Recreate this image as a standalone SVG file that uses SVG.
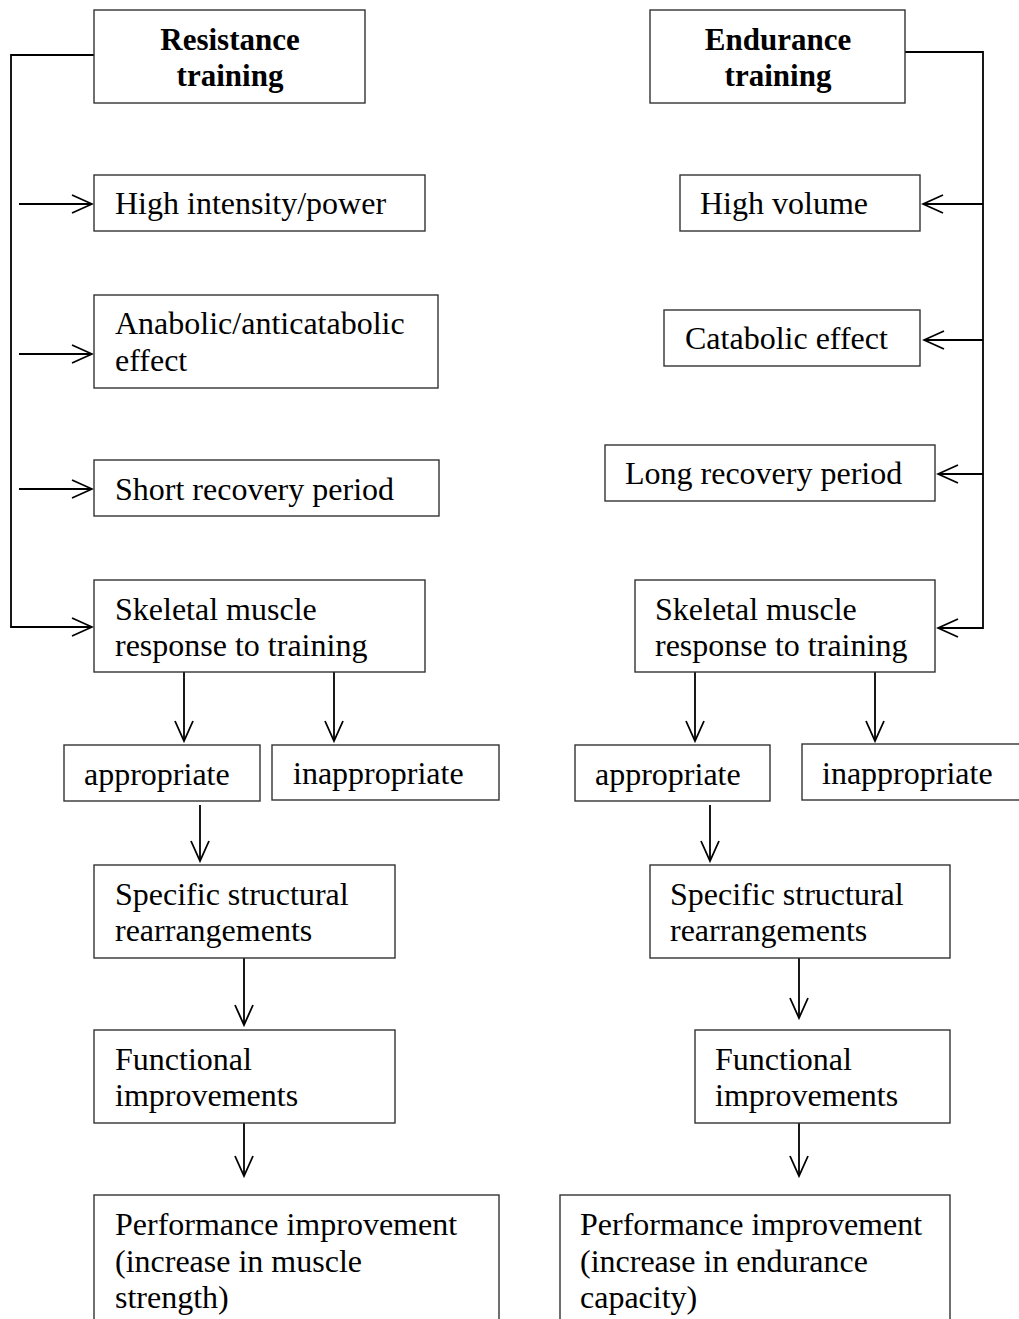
<svg xmlns="http://www.w3.org/2000/svg" width="1019" height="1319" viewBox="0 0 1019 1319">
<style>
.box{fill:#fff;stroke:#333;stroke-width:1.4}
.t{font-family:"Liberation Serif","Times New Roman",serif;font-size:32px;fill:#000}
.b{font-family:"Liberation Serif","Times New Roman",serif;font-size:31px;font-weight:bold;fill:#000;text-anchor:middle}
.c{fill:none;stroke:#000;stroke-width:1.8}
</style>
<defs>
<marker id="ah" markerUnits="userSpaceOnUse" markerWidth="24" markerHeight="22" viewBox="-22 -11 24 22" refX="0" refY="0" orient="auto">
<path d="M-20,-9 L0,0 L-20,9" fill="none" stroke="#000" stroke-width="1.8"/>
</marker>
</defs>
<rect width="1019" height="1319" fill="#fff"/>
<g id="connectors">
<polyline class="c" points="94,55 11,55 11,627 92,627" marker-end="url(#ah)"/>
<line class="c" x1="19" y1="204" x2="92" y2="204" marker-end="url(#ah)"/>
<line class="c" x1="19" y1="354" x2="92" y2="354" marker-end="url(#ah)"/>
<line class="c" x1="19" y1="489" x2="92" y2="489" marker-end="url(#ah)"/>
<line class="c" x1="184" y1="672" x2="184" y2="741" marker-end="url(#ah)"/>
<line class="c" x1="334" y1="672" x2="334" y2="741" marker-end="url(#ah)"/>
<line class="c" x1="200" y1="805" x2="200" y2="861" marker-end="url(#ah)"/>
<line class="c" x1="244" y1="958" x2="244" y2="1025" marker-end="url(#ah)"/>
<line class="c" x1="244" y1="1123" x2="244" y2="1176" marker-end="url(#ah)"/>
<polyline class="c" points="905,52 983,52 983,628 938,628" marker-end="url(#ah)"/>
<line class="c" x1="983" y1="204" x2="923" y2="204" marker-end="url(#ah)"/>
<line class="c" x1="983" y1="340" x2="924" y2="340" marker-end="url(#ah)"/>
<line class="c" x1="983" y1="474" x2="938" y2="474" marker-end="url(#ah)"/>
<line class="c" x1="695" y1="672" x2="695" y2="741" marker-end="url(#ah)"/>
<line class="c" x1="875" y1="672" x2="875" y2="741" marker-end="url(#ah)"/>
<line class="c" x1="710" y1="805" x2="710" y2="861" marker-end="url(#ah)"/>
<line class="c" x1="799" y1="958" x2="799" y2="1018" marker-end="url(#ah)"/>
<line class="c" x1="799" y1="1123" x2="799" y2="1176" marker-end="url(#ah)"/>
</g>
<g id="resistance-training"><rect class="box" x="94" y="10" width="271" height="93"/><text class="b" x="230" y="50">Resistance</text><text class="b" x="230" y="86">training</text></g>
<g id="high-intensity"><rect class="box" x="94" y="175" width="331" height="56"/><text class="t" x="115" y="214">High intensity/power</text></g>
<g id="anabolic"><rect class="box" x="94" y="295" width="344" height="93"/><text class="t" x="115" y="334">Anabolic/anticatabolic</text><text class="t" x="115" y="371">effect</text></g>
<g id="short-recovery"><rect class="box" x="94" y="460" width="345" height="56"/><text class="t" x="115" y="500">Short recovery period</text></g>
<g id="skeletal-left"><rect class="box" x="94" y="580" width="331" height="92"/><text class="t" x="115" y="620">Skeletal muscle</text><text class="t" x="115" y="656">response to training</text></g>
<g id="appropriate-left"><rect class="box" x="64" y="745" width="196" height="56"/><text class="t" x="84" y="785">appropriate</text></g>
<g id="inappropriate-left"><rect class="box" x="272" y="745" width="227" height="55"/><text class="t" x="293" y="784">inappropriate</text></g>
<g id="structural-left"><rect class="box" x="94" y="865" width="301" height="93"/><text class="t" x="115" y="905">Specific structural</text><text class="t" x="115" y="941">rearrangements</text></g>
<g id="functional-left"><rect class="box" x="94" y="1030" width="301" height="93"/><text class="t" x="115" y="1070">Functional</text><text class="t" x="115" y="1106">improvements</text></g>
<g id="performance-left"><rect class="box" x="94" y="1195" width="405" height="140"/><text class="t" x="115" y="1235">Performance improvement</text><text class="t" x="115" y="1272">(increase in muscle</text><text class="t" x="115" y="1308">strength)</text></g>
<g id="endurance-training"><rect class="box" x="650" y="10" width="255" height="93"/><text class="b" x="778" y="50">Endurance</text><text class="b" x="778" y="86">training</text></g>
<g id="high-volume"><rect class="box" x="680" y="175" width="240" height="56"/><text class="t" x="700" y="214">High volume</text></g>
<g id="catabolic"><rect class="box" x="664" y="310" width="256" height="56"/><text class="t" x="685" y="349">Catabolic effect</text></g>
<g id="long-recovery"><rect class="box" x="605" y="445" width="330" height="56"/><text class="t" x="625" y="484">Long recovery period</text></g>
<g id="skeletal-right"><rect class="box" x="635" y="580" width="300" height="92"/><text class="t" x="655" y="620">Skeletal muscle</text><text class="t" x="655" y="656">response to training</text></g>
<g id="appropriate-right"><rect class="box" x="575" y="745" width="195" height="56"/><text class="t" x="595" y="785">appropriate</text></g>
<g id="inappropriate-right"><rect class="box" x="802" y="744" width="230" height="56"/><text class="t" x="822" y="784">inappropriate</text></g>
<g id="structural-right"><rect class="box" x="650" y="865" width="300" height="93"/><text class="t" x="670" y="905">Specific structural</text><text class="t" x="670" y="941">rearrangements</text></g>
<g id="functional-right"><rect class="box" x="695" y="1030" width="255" height="93"/><text class="t" x="715" y="1070">Functional</text><text class="t" x="715" y="1106">improvements</text></g>
<g id="performance-right"><rect class="box" x="560" y="1195" width="390" height="140"/><text class="t" x="580" y="1235">Performance improvement</text><text class="t" x="580" y="1272">(increase in endurance</text><text class="t" x="580" y="1308">capacity)</text></g>
</svg>
